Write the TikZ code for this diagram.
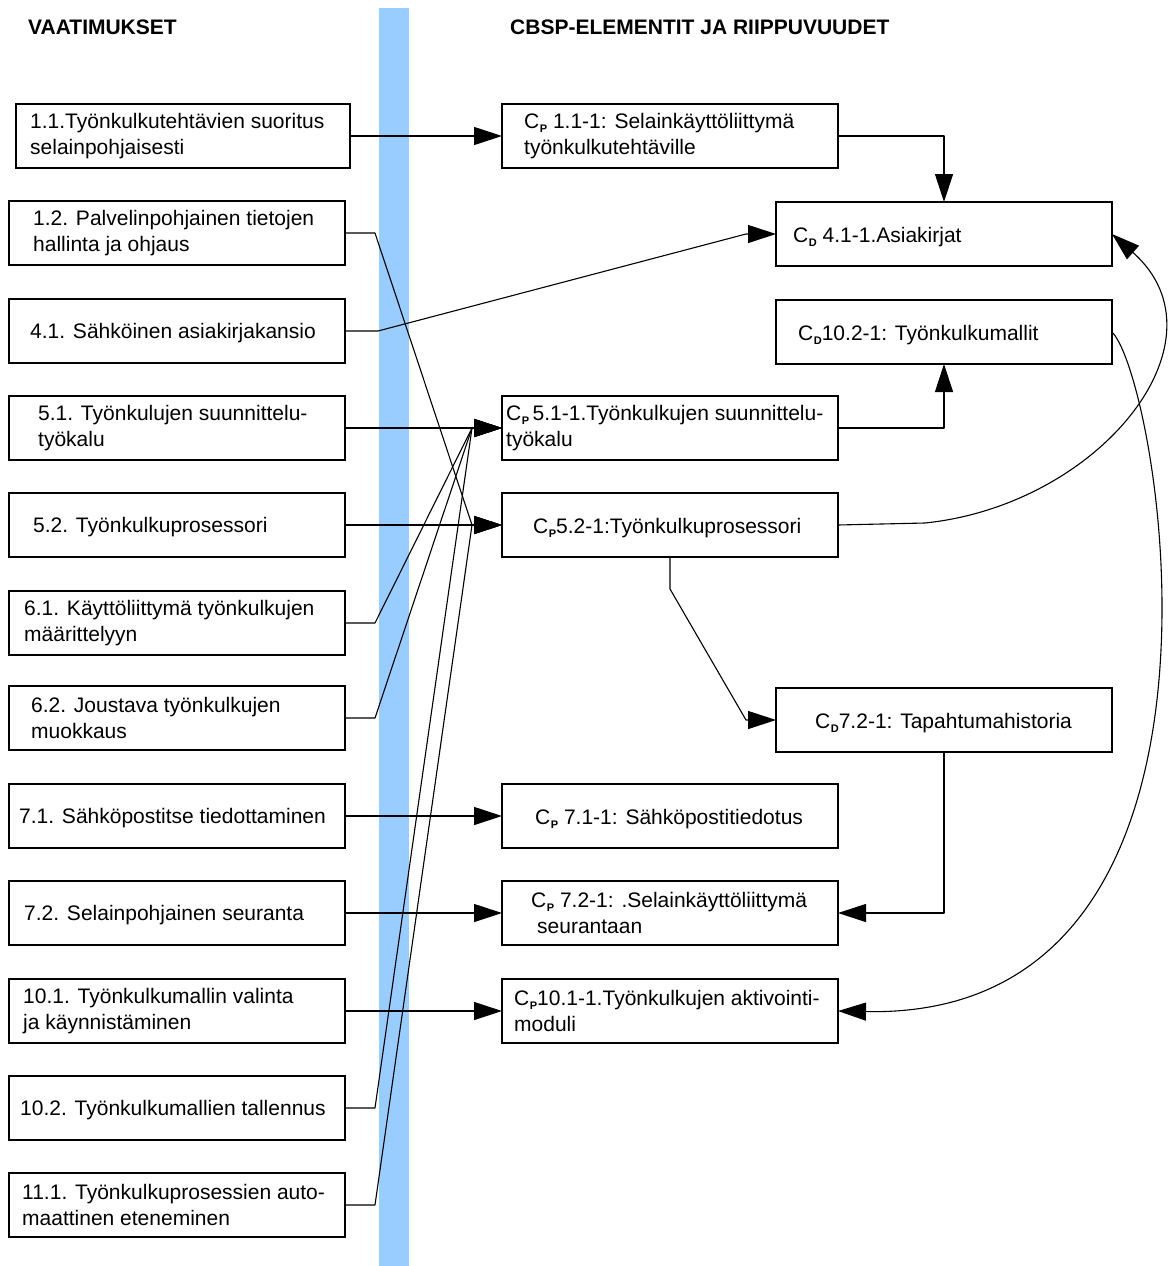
\documentclass[tikz,border=0pt]{standalone}
\usepackage{fontspec}
\setmainfont{Liberation Sans}
\usetikzlibrary{arrows.meta}

\definecolor{barblue}{RGB}{153,204,255}
% C with a small bold subscript letter (C_P, C_D)
\newcommand{\Cs}[1]{C\kern0.5pt\raisebox{-4pt}{\fontsize{11}{11}\selectfont\bfseries #1}}

\begin{document}
\begin{tikzpicture}[x=1pt,y=-1pt,
  box/.style={draw=black, line width=1.4pt, fill=white, minimum width=336pt,
    minimum height=64pt, inner sep=0pt, outer sep=0pt},
  txt/.style={anchor=west, inner sep=0pt, align=left,
    font=\fontsize{21}{25.5}\selectfont},
  head/.style={anchor=west, inner sep=0pt, font=\fontsize{21}{25}\selectfont\bfseries},
  conn/.style={draw=black, line width=1.1pt, line join=round,
    -{Triangle[length=28pt,width=18pt]}}]
\useasboundingbox (0,0) rectangle (1173,1266);

% vertical separator bar
\fill[barblue] (379,8) rectangle (409,1266);

% headings
\node[head] (h1) at (28,27) {VAATIMUKSET};
\node[head] (h2) at (510,27) {CBSP-ELEMENTIT JA RIIPPUVUUDET};

% requirement boxes
\node[box, minimum width=334pt] (q11) at (183,136) {};
\node[box] (q12) at (177,233) {};
\node[box] (q41) at (177,331) {};
\node[box] (q51) at (177,428) {};
\node[box] (q52) at (177,525) {};
\node[box] (q61) at (177,623) {};
\node[box] (q62) at (177,718) {};
\node[box] (q71) at (177,816) {};
\node[box] (q72) at (177,913) {};
\node[box] (q101) at (177,1011) {};
\node[box] (q102) at (177,1108) {};
\node[box] (q111) at (177,1205) {};

\node[txt] (t11) at (30,136) {1.1.Työnkulkutehtävien suoritus\\selainpohjaisesti};
\node[txt] (t12) at (33,233) {1.2. Palvelinpohjainen tietojen\\hallinta ja ohjaus};
\node[txt, yshift=-2pt] (t41) at (30,331) {4.1. Sähköinen asiakirjakansio};
\node[txt] (t51) at (38,428) {5.1. Työnkulujen suunnittelu-\\työkalu};
\node[txt, yshift=-2pt] (t52) at (33,525) {5.2. Työnkulkuprosessori};
\node[txt] (t61) at (24,623) {6.1. Käyttöliittymä työnkulkujen\\määrittelyyn};
\node[txt] (t62) at (31,718) {6.2. Joustava työnkulkujen\\muokkaus};
\node[txt, yshift=-2pt] (t71) at (19,816) {7.1. Sähköpostitse tiedottaminen};
\node[txt, yshift=-2pt] (t72) at (24,913) {7.2. Selainpohjainen seuranta};
\node[txt] (t101) at (23,1011) {10.1. Työnkulkumallin valinta\\ja käynnistäminen};
\node[txt, yshift=-2pt] (t102) at (20,1108) {10.2. Työnkulkumallien tallennus};
\node[txt] (t111) at (22,1205) {11.1. Työnkulkuprosessien auto-\\maattinen eteneminen};

% CBSP element boxes
\node[box] (p11) at (670,136) {};
\node[box] (d41) at (944,234) {};
\node[box] (d102) at (944,332) {};
\node[box] (p51) at (670,428) {};
\node[box] (p52) at (670,525) {};
\node[box] (d72) at (944,720) {};
\node[box] (p71) at (670,816) {};
\node[box] (p72) at (670,913) {};
\node[box] (p101) at (670,1011) {};

\node[txt] (s11) at (524,136) {\Cs{P} 1.1-1: Selainkäyttöliittymä\\työnkulkutehtäville};
\node[txt, yshift=-3pt] (s41) at (793,234) {\Cs{D} 4.1-1.Asiakirjat};
\node[txt, yshift=-3pt] (s102) at (798,332) {\Cs{D}10.2-1: Työnkulkumallit};
\node[txt] (s51) at (506,428) {\Cs{P}\,5.1-1.Työnkulkujen suunnittelu-\\työkalu};
\node[txt, yshift=-3pt] (s52) at (533,525) {\Cs{P}5.2-1:Työnkulkuprosessori};
\node[txt, yshift=-3pt] (s72) at (815,720) {\Cs{D}7.2-1: Tapahtumahistoria};
\node[txt, yshift=-3pt] (s71) at (535,816) {\Cs{P} 7.1-1: Sähköpostitiedotus};
\node[txt] (s72b) at (531,913) {\Cs{P} 7.2-1: .Selainkäyttöliittymä\\\hspace*{6pt}seurantaan};
\node[txt] (s101) at (514,1011) {\Cs{P}10.1-1.Työnkulkujen aktivointi-\\moduli};

% requirement -> element connectors
\draw[conn] (q11.east) -- (p11.west);
\draw[conn] (q12.east) -- ++(30,0) -- ([xshift=-30pt]p52.west) -- (p52.west);
\draw[conn] (q41.east) -- ++(33,0) -- ([xshift=-30pt]d41.west) -- (d41.west);
\draw[conn] (q51.east) -- (p51.west);
\draw[conn] (q52.east) -- (p52.west);
\draw[conn] (q61.east) -- ++(30,0) -- ([xshift=-30pt]p51.west) -- (p51.west);
\draw[conn] (q62.east) -- ++(30,0) -- ([xshift=-30pt]p51.west) -- (p51.west);
\draw[conn] (q71.east) -- (p71.west);
\draw[conn] (q72.east) -- (p72.west);
\draw[conn] (q101.east) -- (p101.west);
\draw[conn] (q102.east) -- ++(30,0) -- ([xshift=-30pt]p51.west) -- (p51.west);
\draw[conn] (q111.east) -- ++(30,0) -- ([xshift=-30pt]p52.west) -- (p52.west);

% dependencies between elements
\draw[conn] (p11.east) -| (d41.north);
\draw[conn] (p51.east) -| (d102.south);
\draw[conn] (p52.south) -- ++(0,32) -- ([xshift=-30pt]d72.west) -- (d72.west);
\draw[conn] (d72.south) |- (p72.east);
\draw[conn] (p52.east) -- (925,523) .. controls (1100,505) and (1232,340) .. (d41.east);
\draw[conn] (d102.east) .. controls (1160,380) and (1268,1020) .. (p101.east);
\end{tikzpicture}
\end{document}
